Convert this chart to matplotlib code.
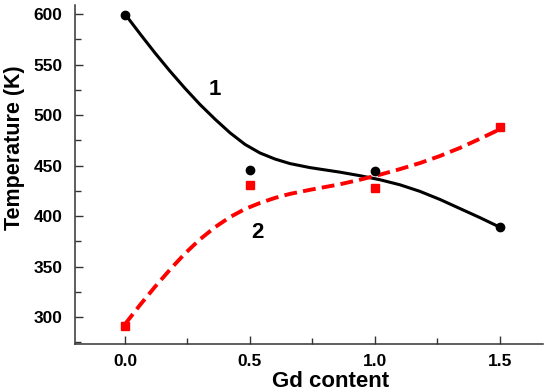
import numpy as np
from matplotlib import pyplot as plt
from matplotlib.ticker import MultipleLocator

plt.rcParams['font.family'] = ['Liberation Sans', 'DejaVu Sans']
plt.rcParams['font.weight'] = 'bold'

# 测量点
gd = [0.0, 0.5, 1.0, 1.5]
t1 = [599, 446, 445, 389]     # 曲线1 (黑色圆点)
t2 = [291, 431, 428, 488]     # 曲线2 (红色方块)

# 平滑曲线
curve_x = [0.0, 0.06, 0.12, 0.18, 0.24, 0.30, 0.36, 0.42, 0.48, 0.54, 0.60,
           0.66, 0.74, 0.86, 0.94, 1.02, 1.10, 1.18, 1.26, 1.34, 1.42, 1.5]
curve1 = [600, 580.5, 561.5, 543.5, 526.5, 510.5, 496, 482.5, 471, 462.5, 456.5,
          452, 448, 443.5, 440, 436, 431, 424.5, 416.5, 407.5, 398.5, 389]
curve2 = [293, 312, 330, 347, 363, 377, 389, 399, 407, 413, 418,
          422, 426, 431.5, 436, 441, 446.5, 452.5, 459.5, 467.5, 476.5, 486]

xticks = [0.0, 0.5, 1.0, 1.5]
yticks = [300, 350, 400, 450, 500, 550, 600]

fig = plt.figure(figsize=(5.5, 3.91), dpi=100)
ax = fig.add_axes([0.1364, 0.12, 0.8506, 0.867])

ax.plot(curve_x, curve1, color='black', lw=2.2, solid_capstyle='round', solid_joinstyle='round')
ax.plot(curve_x, curve2, color='#ff0000', lw=2.8, dashes=(3.3, 1.6))
ax.plot(gd, t1, 'o', color='black', ms=6)
ax.plot(gd, t2, 's', color='#ff0000', ms=5.5)

ax.text(0.36, 525, '1', fontsize=16, fontweight='bold', ha='center', va='center')
ax.text(0.53, 384, '2', fontsize=16, fontweight='bold', ha='center', va='center')

ax.set_xlim(-0.2, 1.672)
ax.set_ylim(273.3, 608.9)
ax.set_xticks(xticks)
ax.set_yticks(yticks)
ax.xaxis.set_minor_locator(MultipleLocator(0.25))
ax.yaxis.set_minor_locator(MultipleLocator(25))

for s in ['top', 'right']:
    ax.spines[s].set_visible(False)
for s in ['left', 'bottom']:
    ax.spines[s].set_color('#333333')
    ax.spines[s].set_linewidth(1.1)

ax.tick_params(which='both', direction='in', color='#333333', width=1.0)
ax.tick_params(which='major', length=6, labelsize=12.5)
ax.tick_params(which='minor', length=4)
ax.tick_params(axis='y', pad=9)
ax.tick_params(axis='x', pad=7)

ax.set_xlabel('Gd content', fontsize=16, fontweight='bold')
ax.xaxis.set_label_coords(0.547, -0.08)
ax.set_ylabel('Temperature (K)', fontsize=15.5, fontweight='bold')
ax.yaxis.set_label_coords(-0.107, 0.58)

fig.savefig('out.png', dpi=100)
